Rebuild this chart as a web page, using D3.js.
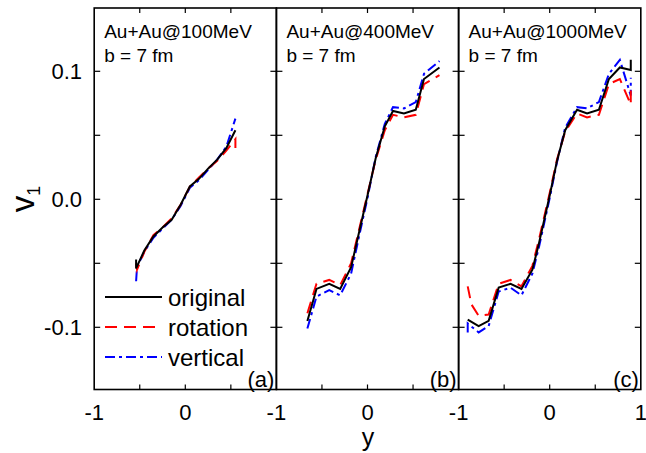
<!DOCTYPE html>
<html>
<head>
<meta charset="utf-8">
<script src="https://cdn.jsdelivr.net/npm/d3@7"></script>
<style>
body{margin:0;background:#fff}
svg text{font-family:"Liberation Sans",Arial,sans-serif}
</style>
</head>
<body>
<svg id="chart" width="646" height="453"></svg>
<script>
// panel labels
let panelTitles=['Au+Au@100MeV','Au+Au@400MeV','Au+Au@1000MeV']
let panelTags=['(a)','(b)','(c)']
let yTicks=[-0.1,0.0,0.1]
let xTicks=[-1,0,1]
let legendNames=['original','rotation','vertical']

// [y, v1]
let origA=[[-0.54,-0.047],[-0.54,-0.054],[-0.45,-0.040],[-0.35,-0.029],[-0.25,-0.022],[-0.15,-0.016],[-0.05,-0.004],[0.05,0.010],[0.15,0.016],[0.25,0.024],[0.35,0.031],[0.45,0.040],[0.55,0.054]]
let rotA=[[-0.54,-0.050],[-0.53,-0.055],[-0.45,-0.041],[-0.35,-0.028],[-0.25,-0.022],[-0.15,-0.015],[-0.05,-0.004],[0.05,0.010],[0.15,0.017],[0.25,0.024],[0.35,0.030],[0.45,0.038],[0.55,0.047],[0.55,0.040]]
let vertA=[[-0.54,-0.064],[-0.53,-0.053],[-0.45,-0.041],[-0.35,-0.030],[-0.25,-0.023],[-0.15,-0.016],[-0.05,-0.005],[0.05,0.009],[0.15,0.015],[0.25,0.023],[0.35,0.031],[0.45,0.041],[0.55,0.063]]

let origB=[[-0.66,-0.095],[-0.56,-0.070],[-0.42,-0.066],[-0.30,-0.070],[-0.18,-0.053],[-0.09,-0.025],[0.0,0.003],[0.09,0.032],[0.19,0.057],[0.28,0.069],[0.40,0.067],[0.53,0.070],[0.62,0.094],[0.79,0.103]]
let rotB=[[-0.66,-0.089],[-0.56,-0.066],[-0.42,-0.063],[-0.30,-0.067],[-0.18,-0.050],[-0.09,-0.023],[0.0,0.004],[0.09,0.031],[0.19,0.054],[0.28,0.066],[0.40,0.064],[0.53,0.066],[0.62,0.090],[0.79,0.097]]
let vertB=[[-0.66,-0.101],[-0.56,-0.076],[-0.42,-0.071],[-0.30,-0.075],[-0.18,-0.058],[-0.09,-0.028],[0.0,0.001],[0.09,0.033],[0.19,0.059],[0.28,0.072],[0.40,0.071],[0.53,0.076],[0.62,0.098],[0.79,0.108]]

let origC=[[-0.90,-0.094],[-0.78,-0.099],[-0.67,-0.095],[-0.56,-0.069],[-0.43,-0.066],[-0.31,-0.070],[-0.19,-0.055],[-0.12,-0.035],[0.0,0.003],[0.08,0.030],[0.17,0.054],[0.30,0.070],[0.41,0.067],[0.54,0.070],[0.65,0.094],[0.77,0.103],[0.89,0.101],[0.89,0.109]]
let rotC=[[-0.90,-0.068],[-0.86,-0.082],[-0.78,-0.091],[-0.67,-0.090],[-0.56,-0.066],[-0.43,-0.063],[-0.31,-0.068],[-0.19,-0.052],[-0.12,-0.032],[0.0,0.005],[0.08,0.031],[0.17,0.053],[0.30,0.067],[0.41,0.064],[0.54,0.066],[0.65,0.090],[0.77,0.094],[0.89,0.074],[0.89,0.085]]
let vertC=[[-0.90,-0.104],[-0.90,-0.097],[-0.78,-0.104],[-0.67,-0.099],[-0.56,-0.072],[-0.43,-0.069],[-0.31,-0.075],[-0.19,-0.058],[-0.12,-0.038],[0.0,0.001],[0.08,0.029],[0.17,0.056],[0.30,0.072],[0.41,0.071],[0.54,0.076],[0.65,0.098],[0.77,0.109],[0.89,0.081],[0.89,0.095]]

let panels=[[origA,rotA,vertA],[origB,rotB,vertB],[origC,rotC,vertC]]

let mLeft=94.2, mTop=8, mBottom=389.5, pw=182.2
let colors=['#000000','#ff0000','#0000ff']
let dashes=[null,'12,7','10,4,3,4']

let svg=d3.select('#chart')
let yscale=d3.scaleLinear().domain([-0.1,0.1]).range([327.3,71.3])

let line=d3.line()

panels.forEach((series,p)=>{
    let x0=mLeft+p*pw
    let xscale=d3.scaleLinear().domain([-1,1]).range([x0,x0+pw])
    let g=svg.append('g')

    line.x(d=>xscale(d[0])).y(d=>yscale(d[1]))

    // curves, drawn vertical first so black sits on top
    ;[2,1,0].forEach(k=>{
        g.append('path')
         .attr('d',line(series[k]))
         .attr('fill','none')
         .attr('stroke',colors[k])
         .attr('stroke-width',2)
         .attr('stroke-dasharray',dashes[k])
    })

    // inward ticks on all four sides
    let xt=[-0.5,0,0.5]
    xt.forEach(t=>{
        g.append('line').attr('x1',xscale(t)).attr('x2',xscale(t)).attr('y1',mBottom).attr('y2',mBottom-5).attr('stroke','#000').attr('stroke-width',1.2)
        g.append('line').attr('x1',xscale(t)).attr('x2',xscale(t)).attr('y1',mTop).attr('y2',mTop+5).attr('stroke','#000').attr('stroke-width',1.2)
    })
    let yt=[-0.1,-0.05,0,0.05,0.1]
    yt.forEach(t=>{
        g.append('line').attr('x1',x0).attr('x2',x0+6).attr('y1',yscale(t)).attr('y2',yscale(t)).attr('stroke','#000').attr('stroke-width',1.2)
        g.append('line').attr('x1',x0+pw).attr('x2',x0+pw-6).attr('y1',yscale(t)).attr('y2',yscale(t)).attr('stroke','#000').attr('stroke-width',1.2)
    })

    g.append('rect').attr('x',x0).attr('y',mTop).attr('width',pw).attr('height',mBottom-mTop)
     .attr('fill','none').attr('stroke','#000').attr('stroke-width',1.6)

    // x tick labels
    let labs=p==2?xTicks:xTicks.slice(0,2)
    labs.forEach(t=>{
        svg.append('text').attr('x',xscale(t)).attr('y',420).attr('text-anchor','middle')
           .style('font-size','22px').text(String(t))
    })

    g.append('text').attr('x',x0+10).attr('y',38).style('font-size','19px').text(panelTitles[p])
    g.append('text').attr('x',x0+10).attr('y',62).style('font-size','19px').text('b = 7 fm')
    g.append('text').attr('x',x0+pw-2).attr('y',387).attr('text-anchor','end').style('font-size','22px').text(panelTags[p])
})

// y axis labels (plain hyphen for the minus, as in the original)
yTicks.forEach(t=>{
    svg.append('text').attr('x',82).attr('y',yscale(t)+8).attr('text-anchor','end')
       .style('font-size','22px').text(t.toFixed(1))
})

// axis titles
let vt=svg.append('text').attr('transform','translate(34,199) rotate(-90)').attr('text-anchor','middle').style('font-size','33px')
vt.append('tspan').text('v')
vt.append('tspan').attr('dy',6).style('font-size','18px').text('1')

svg.append('text').attr('x',368).attr('y',446).attr('text-anchor','middle').style('font-size','25px').text('y')

// legend in panel (a)
legendNames.forEach((n,i)=>{
    let yy=297+i*30
    svg.append('line').attr('x1',105).attr('x2',162).attr('y1',yy).attr('y2',yy)
       .attr('stroke',colors[i]).attr('stroke-width',2).attr('stroke-dasharray',dashes[i])
    svg.append('text').attr('x',168).attr('y',yy+8.5).style('font-size','24px').text(n)
})
</script>
</body>
</html>
